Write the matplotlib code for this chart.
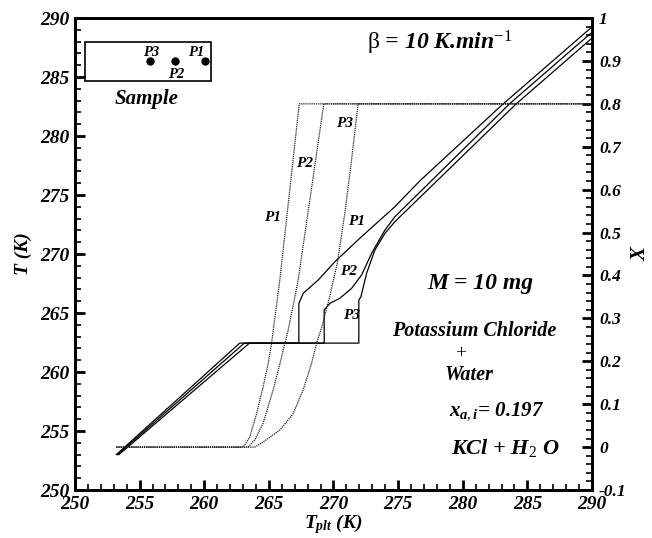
import numpy as np
import matplotlib
matplotlib.use('Agg')
import matplotlib.pyplot as plt
from matplotlib.patches import Rectangle
from matplotlib.ticker import MultipleLocator

plt.rcParams['font.family'] = 'Liberation Serif'
plt.rcParams['mathtext.fontset'] = 'custom'
plt.rcParams['mathtext.rm'] = 'Liberation Serif'
plt.rcParams['mathtext.it'] = 'Liberation Serif:italic:bold'
plt.rcParams['mathtext.bf'] = 'Liberation Serif:bold'

# temperature of the sample points (solid lines, left axis)
tplt_p1 = [253.2, 262.75, 267.32, 267.32, 267.66, 268.82, 270.11, 272.17, 274.75, 276.68, 283.0, 290.0]
temp_p1 = [253.0, 262.45, 262.45, 265.8, 266.67, 267.8, 269.35, 271.47, 274.01, 276.2, 282.6, 289.25]
tplt_p2 = [253.3, 263.1, 269.28, 269.28, 269.72, 270.49, 271.4, 272.17, 272.95, 273.98, 274.75, 283.64, 290.0]
temp_p2 = [253.0, 262.45, 262.45, 265.25, 265.82, 266.25, 267.09, 268.22, 270.06, 272.03, 273.16, 282.75, 288.8]
tplt_p3 = [253.4, 263.5, 271.96, 271.96, 272.12, 272.56, 273.2, 273.98, 274.75, 284.16, 290.0]
temp_p3 = [253.0, 262.45, 262.45, 266.1, 266.38, 268.36, 270.34, 271.75, 272.74, 282.75, 288.3]

# frozen fraction X (dotted lines, right axis)
xt_p1 = [253.2, 263.02, 263.53, 264.05, 264.56, 264.95, 265.21, 265.34, 265.85, 267.35, 290.0]
xv_p1 = [0.0, 0.0, 0.024, 0.078, 0.141, 0.195, 0.242, 0.273, 0.39, 0.8, 0.8]
xt_p2 = [253.2, 263.4, 263.92, 264.56, 265.34, 265.86, 266.24, 266.5, 267.27, 269.25, 290.0]
xv_p2 = [0.0, 0.0, 0.017, 0.056, 0.134, 0.195, 0.242, 0.273, 0.39, 0.8, 0.8]
xt_p3 = [253.2, 263.92, 264.56, 265.86, 266.88, 267.66, 268.3, 268.69, 269.1, 269.7, 270.3, 270.9, 271.4, 271.9, 290.0]
xv_p3 = [0.0, 0.0, 0.012, 0.04, 0.078, 0.134, 0.195, 0.242, 0.28, 0.35, 0.43, 0.55, 0.67, 0.8, 0.8]

# sample sketch
sample_x = [255.8, 257.7, 260.05]
sample_y = [286.4, 286.4, 286.4]

fig = plt.figure(figsize=(6.52, 5.38), dpi=100)
ax = fig.add_axes([0.115, 0.0892, 0.793, 0.8773])
ax2 = ax.twinx()

bi = dict(fontstyle='italic', fontweight='bold')

for xs, ys in [(tplt_p1, temp_p1), (tplt_p2, temp_p2), (tplt_p3, temp_p3)]:
    ax.plot(xs, ys, color='black', lw=0.9)
for xs, ys in [(xt_p1, xv_p1), (xt_p2, xv_p2), (xt_p3, xv_p3)]:
    ax2.plot(xs, ys, color='#222222', lw=0.9, ls=(0, (1, 0.7)))

ax.set_xlim(250, 290)
ax.set_ylim(250, 290)
ax2.set_ylim(-0.1, 1.0)

ax.xaxis.set_major_locator(MultipleLocator(5))
ax.xaxis.set_minor_locator(MultipleLocator(1))
ax.yaxis.set_major_locator(MultipleLocator(5))
ax.yaxis.set_minor_locator(MultipleLocator(1))
ax2.yaxis.set_minor_locator(MultipleLocator(0.02))
ax2.set_yticks(np.arange(-0.1, 1.01, 0.1))
ax2.set_yticklabels(['-0.1', '0', '0.1', '0.2', '0.3', '0.4', '0.5', '0.6', '0.7', '0.8', '0.9', '1'])

ax.tick_params(which='both', direction='in', top=False, right=False)
ax.tick_params(which='major', length=7, width=2, labelsize=14, pad=4)
ax.tick_params(which='minor', length=4, width=1.2)
ax2.tick_params(which='both', direction='in')
ax2.tick_params(which='major', length=7, width=2, labelsize=12.5, pad=5)
ax2.tick_params(which='minor', length=4, width=1.2)
for lab in ax.get_xticklabels() + ax.get_yticklabels() + ax2.get_yticklabels():
    lab.set_fontstyle('italic')
    lab.set_fontweight('bold')
for sp in list(ax.spines.values()) + list(ax2.spines.values()):
    sp.set_linewidth(2)

ax.set_ylabel('T (K)', fontsize=14, labelpad=6, **bi)
ax.set_xlabel(r'$T_{plt}$ (K)', fontsize=14, labelpad=0, **bi)
ax2.set_ylabel('X', fontsize=15, labelpad=3, **bi)

# sample box
ax.add_patch(Rectangle((250.77, 284.66), 9.73, 3.31, fill=False, lw=1.2, ec='black'))
ax.plot(sample_x, sample_y, 'o', color='black', ms=5)
ax.text(255.93, 287.1, 'P3', ha='center', va='center', fontsize=10.5, **bi)
ax.text(257.86, 285.2, 'P2', ha='center', va='center', fontsize=10.5, **bi)
ax.text(259.41, 287.1, 'P1', ha='center', va='center', fontsize=10.5, **bi)
ax.text(255.55, 283.1, 'Sample', ha='center', va='center', fontsize=15, **bi)

# curve labels
ax.text(265.26, 273.1, 'P1', ha='center', va='center', fontsize=11, **bi)
ax.text(267.79, 277.7, 'P2', ha='center', va='center', fontsize=11, **bi)
ax.text(270.88, 281.1, 'P3', ha='center', va='center', fontsize=11, **bi)
ax.text(271.78, 272.74, 'P1', ha='center', va='center', fontsize=11, **bi)
ax.text(271.14, 268.5, 'P2', ha='center', va='center', fontsize=11, **bi)
ax.text(271.4, 264.83, 'P3', ha='center', va='center', fontsize=11, **bi)

# annotations
ax.text(278.2, 287.9, r'$\mathrm{\beta}$ = 10 K.min$^{-1}$', ha='center', va='center', fontsize=17, **bi)
ax.text(281.4, 267.5, 'M = 10 mg', ha='center', va='center', fontsize=17, **bi)
ax.text(280.9, 263.45, 'Potassium Chloride', ha='center', va='center', fontsize=14.5, **bi)
ax.text(279.8, 261.6, '+', ha='center', va='center', fontsize=14)
ax.text(280.5, 259.77, 'Water', ha='center', va='center', fontsize=14.5, **bi)
ax.text(282.6, 256.67, r'$x_{a,i}$= 0.197', ha='center', va='center', fontsize=15, **bi)
ax.text(283.3, 253.56, r'KCl + H$_2$ O', ha='center', va='center', fontsize=16, **bi)

plt.savefig('out.png', dpi=100)
plt.close(fig)
